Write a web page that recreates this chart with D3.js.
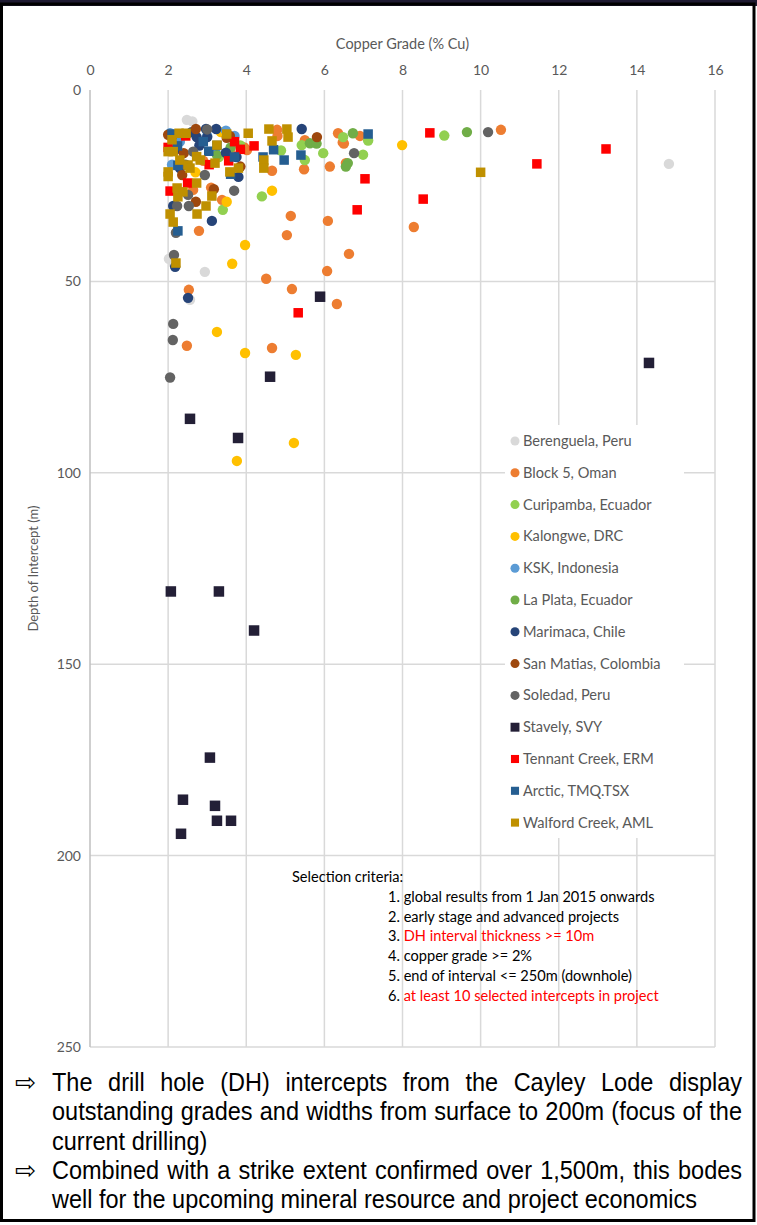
<!DOCTYPE html>
<html>
<head>
<meta charset="utf-8">
<script src="https://cdn.jsdelivr.net/npm/d3@7/dist/d3.min.js"></script>
<style>
  html, body { margin: 0; padding: 0; background: #fff; }
  svg { display: block; }
</style>
</head>
<body>
<svg id="chart" width="757" height="1225"></svg>
<script>
// Drill-hole intercepts: [copper grade %Cu, depth of intercept m]
const berenguela = [[14.82,19.3],[2.02,44.1],[2.94,47.5],[2.48,7.8],[2.62,8.2],[2.56,54.8],[2.15,45.5]];
const block5 = [[10.52,10.4],[8.29,35.8],[6.35,11.3],[6.47,13.7],[6.91,12.0],[6.55,19.1],[6.14,20.0],[5.48,20.7],
  [4.66,21.1],[4.79,10.4],[4.02,15.7],[5.14,32.9],[6.09,34.2],[5.04,37.9],[2.79,36.8],[3.38,28.7],[2.64,26.1],
  [5.5,13.1],[6.63,42.8],[6.07,47.3],[4.51,49.3],[5.17,52.0],[2.53,52.2],[6.32,55.9],[2.48,66.8],[4.66,67.4],
  [3.95,15.0],[6.5,14.0],[3.6,16.5],[2.1,12.5],[3.1,25.5],[2.9,18.5],[4.8,12.0]];
const curipamba = [[9.07,11.9],[7.12,13.2],[5.97,16.5],[6.99,16.9],[6.48,12.3],[4.89,15.8],[5.42,14.4],[5.5,18.3],
  [4.4,27.8],[3.4,31.3],[3.85,14.5],[3.3,17.5]];
const kalongwe = [[7.99,14.4],[4.66,26.3],[3.5,29.2],[3.97,40.5],[3.64,45.4],[3.25,63.2],[3.97,68.7],[5.27,69.2],
  [3.76,96.9],[5.22,92.2],[3.35,11.0],[2.7,21.5]];
const ksk = [[3.48,10.6],[2.05,11.3],[2.3,13.5],[3.0,12.0],[2.65,11.0],[3.2,16.0],[2.1,19.5],[3.7,12.0]];
const laPlata = [[9.65,11.0],[6.73,11.3],[6.6,19.1],[5.63,13.9],[3.25,17.0],[6.55,20.0],[5.8,14.0],[3.6,15.0]];
const marimaca = [[2.97,10.2],[3.23,10.2],[5.42,10.2],[3.0,12.3],[2.73,12.3],[3.48,16.4],[2.3,20.4],[3.12,34.2],
  [2.13,30.3],[2.18,46.2],[2.51,54.3],[3.8,22.7],[2.2,15.5],[2.8,14.5],[3.75,17.5],[2.6,11.0]];
const sanMatias = [[5.81,12.3],[2.71,10.2],[3.58,12.0],[2.0,11.7],[2.36,22.2],[3.17,25.9],[2.71,29.2],[3.5,12.5],
  [3.85,20.0],[2.4,16.5]];
const soledad = [[10.19,11.0],[6.76,16.5],[3.69,26.3],[2.51,27.4],[2.53,30.3],[2.23,30.3],[2.64,16.1],[2.94,22.2],
  [2.15,43.1],[2.13,61.1],[2.12,65.3],[2.05,75.1],[2.2,37.3],[3.0,10.3],[2.45,19.5]];
const stavely = [[4.61,74.9],[5.89,54.0],[14.31,71.3],[2.56,85.9],[3.79,90.9],[2.07,131],[3.3,131],[4.2,141.2],
  [3.07,174.4],[2.38,185.4],[3.2,187],[3.25,190.9],[3.61,190.9],[2.33,194.3]];
const tennantCreek = [[8.70,11.2],[13.21,15.4],[11.44,19.3],[7.04,23.2],[8.53,28.5],[6.84,31.3],[5.33,58.2],
  [4.2,14.6],[3.7,13.5],[3.55,18.5],[2.45,12.0],[2.0,15.0],[2.5,24.3],[2.05,26.4],[3.05,19.5],[3.85,15.5]];
const arctic = [[7.12,11.5],[5.4,17.0],[4.97,18.3],[4.43,17.5],[4.7,15.6],[3.7,17.5],[3.6,22.0],[3.25,14.5],
  [2.24,14.6],[2.25,19.7],[2.25,36.8],[2.9,13.5],[3.04,16.0],[2.1,11.5]];
const walfordCreek = [[4.58,10.2],[5.04,10.2],[4.66,13.3],[5.07,12.3],[4.05,11.3],[4.45,18.3],[4.45,20.4],
  [3.25,14.4],[3.2,19.1],[3.58,21.4],[3.8,20.4],[2.28,11.3],[2.46,11.3],[2.0,16.1],[2.13,16.1],[2.73,17.4],
  [2.82,18.3],[2.30,18.3],[2.51,19.6],[2.0,21.4],[2.0,22.6],[2.56,20.4],[2.23,25.6],[2.38,26.6],[2.25,27.9],
  [2.73,24.3],[3.12,27.7],[2.97,30.3],[2.05,32.4],[2.74,32.4],[2.13,34.5],[2.2,45.2],[10.0,21.5],[2.1,13.0],[3.5,11.5]];

const projectNames = ["Berenguela, Peru","Block 5, Oman","Curipamba, Ecuador","Kalongwe, DRC","KSK, Indonesia",
  "La Plata, Ecuador","Marimaca, Chile","San Matias, Colombia","Soledad, Peru","Stavely, SVY",
  "Tennant Creek, ERM","Arctic, TMQ.TSX","Walford Creek, AML"];
const projectData = [berenguela, block5, curipamba, kalongwe, ksk, laPlata, marimaca, sanMatias, soledad,
  stavely, tennantCreek, arctic, walfordCreek];

const gradeTicks = [0,2,4,6,8,10,12,14,16];
const depthTicks = [0,50,100,150,200,250];

const criteria = [
  {t:"1. ", s:"global results from 1 Jan 2015 onwards", hot:false},
  {t:"2. ", s:"early stage and advanced projects", hot:false},
  {t:"3. ", s:"DH interval thickness >= 10m", hot:true},
  {t:"4. ", s:"copper grade >= 2%", hot:false},
  {t:"5. ", s:"end of interval <= 250m (downhole)", hot:false},
  {t:"6. ", s:"at least 10 selected intercepts in project", hot:true}
];

const notes = [
  ["The drill hole (DH) intercepts from the Cayley Lode display",
   "outstanding grades and widths from surface to 200m (focus of the",
   "current drilling)"],
  ["Combined with a strike extent confirmed over 1,500m, this bodes",
   "well for the upcoming mineral resource and project economics"]
];

// marker styling per project, same order as projectNames
const styles = [
  {c:"#d9d9d9", m:"circle"},{c:"#ed7d31", m:"circle"},{c:"#92d050", m:"circle"},{c:"#ffc000", m:"circle"},
  {c:"#5b9bd5", m:"circle"},{c:"#70ad47", m:"circle"},{c:"#264478", m:"circle"},{c:"#9e480e", m:"circle"},
  {c:"#636363", m:"circle"},{c:"#231f36", m:"bigsquare"},{c:"#ff0000", m:"square"},{c:"#255e91", m:"square"},
  {c:"#bf9000", m:"square"}
];

const svg = d3.select("#chart");
const font = "Lato, 'Open Sans', sans-serif";

// frame
svg.append("rect").attr("x",0).attr("y",0).attr("width",757).attr("height",6).attr("fill","#1e1a31");
svg.append("rect").attr("x",1.5).attr("y",4).attr("width",752.5).attr("height",1216.5)
  .attr("fill","none").attr("stroke","#000").attr("stroke-width",3);

const x = d3.scaleLinear().domain([0,16]).range([90,715]);
const y = d3.scaleLinear().domain([0,250]).range([90,1047]);

// gridlines
const grid = svg.append("g");
grid.selectAll("line.v").data(gradeTicks.filter(d => d > 0)).join("line")
  .attr("x1", d => x(d)).attr("x2", d => x(d)).attr("y1", y(0)).attr("y2", y(250))
  .attr("stroke","#d9d9d9").attr("stroke-width",1.5);
grid.selectAll("line.h").data(depthTicks.filter(d => d > 0)).join("line")
  .attr("x1", x(0)).attr("x2", x(16)).attr("y1", d => y(d)).attr("y2", d => y(d))
  .attr("stroke","#d9d9d9").attr("stroke-width",1.5);
svg.append("line").attr("x1",x(0)).attr("x2",x(0)).attr("y1",y(0)).attr("y2",y(250))
  .attr("stroke","#bfbfbf").attr("stroke-width",1.5);

// axes
const xAxis = svg.append("g").attr("transform","translate(0,75)")
  .call(d3.axisTop(x).tickValues(gradeTicks).tickSize(0).tickPadding(0));
const yAxis = svg.append("g").attr("transform","translate(81,0)")
  .call(d3.axisLeft(y).tickValues(depthTicks).tickSize(0).tickPadding(0));
[xAxis, yAxis].forEach(a => {
  a.select(".domain").remove();
  a.selectAll("text").attr("fill","#595959").style("font-family",font).style("font-size","14px");
});

svg.append("text").attr("x",(x(0)+x(16))/2).attr("y",49).attr("text-anchor","middle")
  .attr("fill","#595959").style("font-family",font).style("font-size","14.5px").text("Copper Grade (% Cu)");
svg.append("text").attr("transform",`translate(38,${(y(0)+y(250))/2}) rotate(-90)`).attr("text-anchor","middle")
  .attr("fill","#595959").style("font-family",font).style("font-size","13px").text("Depth of Intercept (m)");

// legend background hides the grid behind it
svg.append("rect").attr("x",505).attr("y",425).attr("width",179).attr("height",413).attr("fill","#fff");

function drawMarker(sel, st, cx, cy, scale) {
  if (st.m === "circle") {
    sel.append("circle").attr("cx",cx).attr("cy",cy).attr("r",5.2*scale).attr("fill",st.c);
  } else {
    const s = (st.m === "bigsquare" ? 10.5 : 9.5) * scale;
    sel.append("rect").attr("x",cx-s/2).attr("y",cy-s/2).attr("width",s).attr("height",s).attr("fill",st.c);
  }
}

// intercepts, drawn project by project
const marks = svg.append("g");
projectData.forEach((pts, i) => {
  const g = marks.append("g");
  pts.forEach(p => drawMarker(g, styles[i], x(p[0]), y(p[1]), 1));
});

// legend
const legend = svg.append("g");
projectNames.forEach((name, i) => {
  const ly = 441 + i * 31.8;
  drawMarker(legend, styles[i], 515, ly, i >= 9 ? 0.85 : 0.87);
  legend.append("text").attr("x",523).attr("y",ly+5).attr("fill","#595959")
    .style("font-family",font).style("font-size","14.6px").text(name);
});

// selection criteria note
const crit = svg.append("g").style("font-family",font).style("font-size","14.6px");
crit.append("text").attr("x",292).attr("y",882).attr("fill","#000").text("Selection criteria:");
criteria.forEach((c, i) => {
  const t = crit.append("text").attr("x",388).attr("y",902 + i*19.7);
  t.append("tspan").attr("fill","#000").text(c.t);
  t.append("tspan").attr("fill", c.hot ? "#ff0000" : "#000").text(c.s);
});

// commentary below the chart; full lines are justified by widening the word gaps
const noteFont = "'Liberation Sans', Arial, sans-serif";
const squeeze = 0.94;          // narrower glyphs for the commentary face
const blockWidth = 690;        // justified text block width
let lineNo = 0;
notes.forEach(par => {
  par.forEach((line, j) => {
    const by = 1091 + lineNo * 29.3;
    if (j === 0) {
      svg.append("text").attr("x",15).attr("y",by).attr("fill","#000")
        .style("font-family","'DejaVu Sans', sans-serif").style("font-size","25px").text("\u21E8");
    }
    const g = svg.append("g").attr("transform",`translate(52,${by}) scale(${squeeze},1)`);
    const t = g.append("text").attr("x",0).attr("y",0).attr("fill","#000")
      .style("font-family",noteFont).style("font-size","25px").text(line);
    if (j < par.length - 1) {
      const natural = t.node().getComputedTextLength();
      const gaps = line.split(" ").length - 1;
      t.attr("word-spacing", (blockWidth / squeeze - natural) / gaps);
    }
    lineNo++;
  });
});
</script>
</body>
</html>
